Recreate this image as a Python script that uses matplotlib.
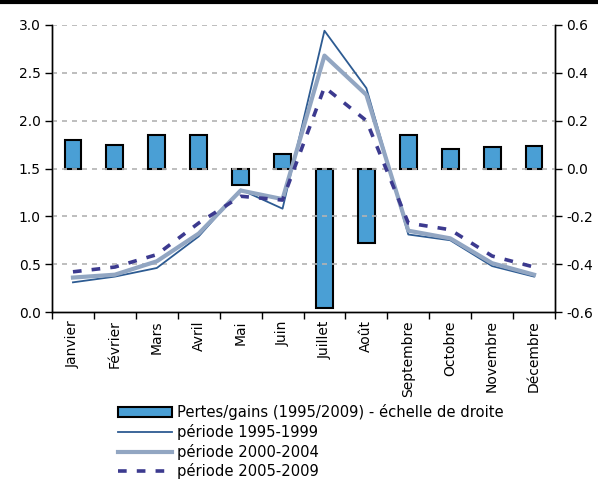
import matplotlib
matplotlib.use("Agg")
import matplotlib.pyplot as plt
from matplotlib.lines import Line2D
import numpy as np

plt.rcParams['font.family'] = ['DejaVu Sans']
plt.rcParams['axes.unicode_minus'] = False

months = ["Janvier", "Février", "Mars", "Avril", "Mai", "Juin", "Juillet",
          "Août", "Septembre", "Octobre", "Novembre", "Décembre"]
gains = [0.12, 0.10, 0.14, 0.14, -0.07, 0.06, -0.585, -0.31, 0.14, 0.08, 0.09, 0.095]
p1995 = [0.31, 0.37, 0.46, 0.79, 1.28, 1.08, 2.94, 2.34, 0.81, 0.75, 0.48, 0.37]
p2000 = [0.36, 0.39, 0.53, 0.82, 1.27, 1.18, 2.68, 2.27, 0.85, 0.77, 0.51, 0.39]
p2005 = [0.42, 0.47, 0.60, 0.93, 1.21, 1.17, 2.35, 2.00, 0.93, 0.86, 0.585, 0.47]
left_ticks = [0.0, 0.5, 1.0, 1.5, 2.0, 2.5, 3.0]
right_ticks = [-0.6, -0.4, -0.2, 0.0, 0.2, 0.4, 0.6]

W, H = 598, 482
fig = plt.figure(figsize=(W / 100, H / 100), dpi=100)
ax1 = fig.add_axes([52 / W, 1 - 312 / H, (555 - 52) / W, (312 - 25) / H])
ax2 = ax1.twinx()

x = np.arange(len(months))
bars = ax2.bar(x, gains, width=0.4, color="#4a9fd5", edgecolor="black",
               linewidth=1.5, label="Pertes/gains (1995/2009) - échelle de droite")
l1, = ax1.plot(x, p1995, color="#2d5b92", linewidth=1.3, label="période 1995-1999")
l2, = ax1.plot(x, p2000, color="#92a6c2", linewidth=3.0, label="période 2000-2004")
l3, = ax1.plot(x, p2005, color="#3c3a8f", linewidth=2.6, linestyle=(0, (2.4, 2.8)),
               label="période 2005-2009")

ax1.set_zorder(ax2.get_zorder() + 1)
ax1.patch.set_visible(False)

ax1.set_xlim(-0.5, 11.5)
ax1.set_ylim(0, 3.0)
ax2.set_ylim(-0.6, 0.6)
ax1.set_yticks(left_ticks)
ax1.set_yticklabels([f"{v:.1f}" for v in left_ticks])
ax2.set_yticks(right_ticks)
ax2.set_yticklabels([f"{v:.1f}" for v in right_ticks])

for v in left_ticks[1:]:
    ax1.axhline(v, color="#b3b3b3", linewidth=1.2, linestyle=(0, (3, 3)), zorder=0)

ax1.set_xticks(np.arange(-0.5, 12, 1.0))
ax1.set_xticklabels([])
ax1.set_xticks(x, minor=True)
ax1.set_xticklabels(months, minor=True, rotation=90, fontsize=10)
ax1.tick_params(axis="x", which="minor", length=0, pad=6)
ax1.tick_params(axis="x", which="major", length=5, width=1, direction="out")
ax1.tick_params(axis="y", length=5, width=1, labelsize=10, pad=3)
ax2.tick_params(axis="y", length=5, width=1, labelsize=10, pad=3)

for a in (ax1, ax2):
    a.spines["top"].set_visible(False)
    for s in ("left", "right", "bottom"):
        a.spines[s].set_linewidth(1.0)
        a.spines[s].set_color("black")

fig.add_artist(Line2D([0, 1], [1 - 1.5 / H, 1 - 1.5 / H], color="black", linewidth=3,
                      transform=fig.transFigure))

fig.legend(handles=[bars, l1, l2, l3], loc="upper left",
           bbox_to_anchor=(118 / W, 1 - 404 / H), frameon=False, fontsize=10.6,
           handlelength=3.7, handletextpad=0.3, labelspacing=0.26,
           borderpad=0, borderaxespad=0)

fig.savefig("out.png", dpi=100)
